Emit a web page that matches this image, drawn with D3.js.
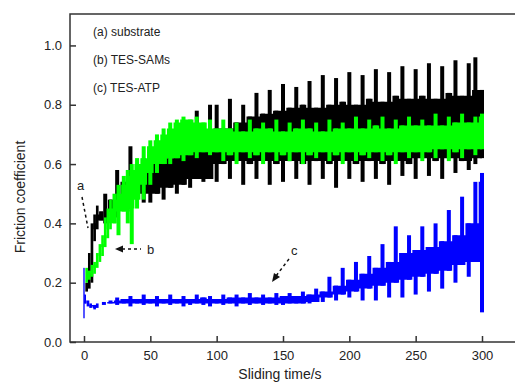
<!DOCTYPE html>
<html>
<head>
<meta charset="utf-8">
<script src="https://cdn.jsdelivr.net/npm/d3@7"></script>
<style>
  body { margin: 0; background: #fff; }
  text { font-family: "Liberation Sans", Arial, sans-serif; fill: #222; }
</style>
</head>
<body>
<svg id="chart" width="515" height="383"></svg>
<script>
// substrate (black): sample time, spike top, spike bottom
const tA  = [2, 4, 6, 8, 10, 13, 16, 20, 25, 30, 35, 40, 45, 50, 55, 60, 65, 70, 75, 80, 85, 90, 95,
  100, 105, 110, 115, 120, 125, 130, 135, 140, 145, 150, 155, 160, 165, 170, 175, 180, 185, 190, 195,
  200, 205, 210, 215, 220, 225, 230, 235, 240, 245, 250, 255, 260, 265, 270, 275, 280, 285, 290, 295, 300];
const hiA = [0.20, 0.30, 0.40, 0.43, 0.46, 0.44, 0.50, 0.48, 0.58, 0.54, 0.66, 0.56, 0.62, 0.62, 0.66, 0.62, 0.68, 0.64, 0.72, 0.66, 0.78, 0.70, 0.80,
  0.80, 0.72, 0.82, 0.74, 0.80, 0.76, 0.84, 0.77, 0.85, 0.78, 0.87, 0.79, 0.86, 0.80, 0.88, 0.79, 0.90, 0.80, 0.89, 0.81,
  0.91, 0.80, 0.90, 0.82, 0.92, 0.81, 0.91, 0.83, 0.93, 0.82, 0.92, 0.83, 0.94, 0.82, 0.93, 0.84, 0.95, 0.83, 0.94, 0.96, 0.85];
const loA = [0.17, 0.18, 0.20, 0.34, 0.38, 0.41, 0.40, 0.44, 0.42, 0.48, 0.45, 0.50, 0.47, 0.47, 0.50, 0.48, 0.52, 0.50, 0.53, 0.52, 0.55, 0.54, 0.55,
  0.54, 0.60, 0.55, 0.61, 0.53, 0.60, 0.55, 0.61, 0.53, 0.60, 0.54, 0.61, 0.55, 0.60, 0.53, 0.61, 0.55, 0.60, 0.52, 0.61,
  0.55, 0.60, 0.54, 0.61, 0.55, 0.60, 0.53, 0.61, 0.56, 0.60, 0.55, 0.62, 0.56, 0.61, 0.55, 0.62, 0.57, 0.61, 0.58, 0.60, 0.62];

// TES-SAMs (green)
const tB  = [2, 4, 6, 8, 10, 12, 14, 16, 18, 20, 23, 26, 30, 33, 36, 40, 45, 50, 55, 60, 65, 70, 75, 80, 85, 90, 95,
  100, 105, 110, 115, 120, 125, 130, 135, 140, 145, 150, 155, 160, 165, 170, 175, 180, 185, 190, 195,
  200, 205, 210, 215, 220, 225, 230, 235, 240, 245, 250, 255, 260, 265, 270, 275, 280, 285, 290, 295, 300];
const hiB = [0.25, 0.24, 0.26, 0.27, 0.30, 0.33, 0.36, 0.42, 0.45, 0.48, 0.50, 0.53, 0.56, 0.58, 0.60, 0.62, 0.66, 0.68, 0.70, 0.72, 0.74, 0.75, 0.76, 0.75, 0.76, 0.74, 0.75,
  0.72, 0.75, 0.72, 0.74, 0.71, 0.75, 0.72, 0.74, 0.72, 0.75, 0.71, 0.74, 0.72, 0.75, 0.72, 0.74, 0.71, 0.75, 0.72, 0.74,
  0.72, 0.76, 0.72, 0.75, 0.73, 0.76, 0.72, 0.75, 0.73, 0.76, 0.73, 0.75, 0.73, 0.77, 0.73, 0.76, 0.74, 0.77, 0.74, 0.76, 0.77];
const loB = [0.20, 0.21, 0.22, 0.23, 0.25, 0.27, 0.29, 0.32, 0.35, 0.38, 0.40, 0.36, 0.44, 0.40, 0.33, 0.45, 0.48, 0.53, 0.57, 0.60, 0.60, 0.62, 0.61, 0.63, 0.62, 0.64, 0.63,
  0.64, 0.61, 0.63, 0.60, 0.64, 0.62, 0.63, 0.60, 0.64, 0.61, 0.63, 0.61, 0.64, 0.60, 0.63, 0.62, 0.64, 0.61, 0.63, 0.60,
  0.64, 0.61, 0.63, 0.62, 0.64, 0.61, 0.63, 0.60, 0.64, 0.62, 0.64, 0.61, 0.64, 0.62, 0.65, 0.61, 0.64, 0.62, 0.65, 0.63, 0.65];

// TES-ATP (blue)
const tC  = [0, 1, 3, 5, 8, 10, 15, 20, 25, 30, 35, 40, 45, 50, 55, 60, 65, 70, 75, 80, 85, 90, 95,
  100, 105, 110, 115, 120, 125, 130, 135, 140, 145, 150, 155, 160, 165, 170, 175, 180, 185, 190, 195,
  200, 205, 210, 215, 220, 225, 230, 235, 240, 245, 250, 255, 260, 265, 270, 275, 280, 285, 290, 295, 300];
const hiC = [0.25, 0.16, 0.14, 0.13, 0.125, 0.13,
  0.135, 0.14, 0.15, 0.145, 0.155, 0.145, 0.16, 0.145, 0.155, 0.145, 0.16, 0.145, 0.155, 0.145, 0.16, 0.15, 0.155,
  0.145, 0.16, 0.15, 0.16, 0.15, 0.165, 0.15, 0.16, 0.15, 0.165, 0.155, 0.165, 0.155, 0.17, 0.16, 0.18, 0.17,
  0.22, 0.19, 0.25, 0.21, 0.27, 0.23, 0.29, 0.25, 0.33, 0.27, 0.39, 0.30, 0.36, 0.31, 0.39, 0.32, 0.40, 0.34, 0.445, 0.36, 0.49, 0.40, 0.54, 0.57];
const loC = [0.08, 0.13, 0.12, 0.115, 0.11, 0.115,
  0.125, 0.13, 0.125, 0.13, 0.12, 0.13, 0.125, 0.13, 0.12, 0.13, 0.125, 0.13, 0.12, 0.125, 0.13, 0.125, 0.12,
  0.13, 0.125, 0.13, 0.12, 0.13, 0.125, 0.13, 0.125, 0.13, 0.125, 0.125, 0.13, 0.13, 0.13, 0.13, 0.135, 0.135,
  0.15, 0.14, 0.16, 0.15, 0.17, 0.14, 0.18, 0.14, 0.19, 0.15, 0.20, 0.15, 0.21, 0.16, 0.22, 0.17, 0.23, 0.18, 0.24, 0.20, 0.26, 0.22, 0.27, 0.10];

const xTicks = [0, 50, 100, 150, 200, 250, 300];
const yTicks = [0.0, 0.2, 0.4, 0.6, 0.8, 1.0];
const legend = ['(a) substrate', '(b) TES-SAMs', '(c) TES-ATP'];

const svg = d3.select('#chart');

const x = d3.scaleLinear().domain([-10.55, 330]).range([70, 521.8]);
const y = d3.scaleLinear().domain([0, 1.106]).range([342, 14]);

function rows(t, hi, lo) {
  return t.map((v, i) => {
    // core of the trace: the range shared with the neighbouring readings
    const j = Math.max(0, i - 1), k = Math.min(t.length - 1, i + 1);
    let top = Math.min(hi[j], hi[i], hi[k]);
    let bot = Math.max(lo[j], lo[i], lo[k]);
    if (top < bot) top = bot = (top + bot) / 2;
    const gap = Math.min(v - t[j] || Infinity, t[k] - v || Infinity);
    return {t: v, hi: hi[i], lo: lo[i], top: top, bot: bot, gap: gap};
  });
}

const core = d3.area()
  .curve(d3.curveStep)
  .x(d => x(d.t))
  .y0(d => y(d.bot))
  .y1(d => y(d.top));

const series = [
  {rows: rows(tC, hiC, loC), color: '#0000ff'},
  {rows: rows(tA, hiA, loA), color: '#000000'},
  {rows: rows(tB, hiB, loB), color: '#00ff00'}
];

const traces = svg.append('g').selectAll('g')
  .data(series)
  .enter().append('g');

traces.append('path')
  .attr('d', d => core(d.rows))
  .attr('fill', d => d.color);

traces.each(function(s) {
  d3.select(this).selectAll('rect')
    .data(s.rows)
    .enter().append('rect')
    .attr('x', d => x(d.t) - Math.min(2, (x(d.t + d.gap) - x(d.t)) / 2))
    .attr('width', d => Math.min(4, x(d.t + d.gap) - x(d.t)))
    .attr('y', d => y(d.hi))
    .attr('height', d => y(d.lo) - y(d.hi))
    .attr('fill', s.color);
});

// frame
svg.append('rect').attr('x', 70).attr('y', 14).attr('width', 452).attr('height', 328)
  .attr('fill', 'none').attr('stroke', '#333').attr('stroke-width', 1.5);

const xAxis = svg.append('g')
  .attr('transform', 'translate(0,342)')
  .call(d3.axisBottom(x).tickValues(xTicks).tickSizeInner(-6).tickSizeOuter(0).tickPadding(9));
const yAxis = svg.append('g')
  .attr('transform', 'translate(70,0)')
  .call(d3.axisLeft(y).tickValues(yTicks).tickFormat(d3.format('.1f')).tickSizeInner(-6).tickSizeOuter(0).tickPadding(8));

[xAxis, yAxis].forEach(g => {
  g.select('.domain').remove();
  g.selectAll('line').attr('stroke', '#333').attr('stroke-width', 1.5);
  g.selectAll('text').style('font-size', '13px').style('font-family', '"Liberation Sans", Arial, sans-serif').attr('fill', '#222');
});

svg.append('text').attr('x', 280).attr('y', 379).attr('text-anchor', 'middle')
  .style('font-size', '14px').text('Sliding time/s');
svg.append('text').attr('transform', 'translate(25,197) rotate(-90)').attr('text-anchor', 'middle')
  .style('font-size', '14px').text('Friction coefficient');

svg.selectAll('.leg').data(legend).enter().append('text')
  .attr('class', 'leg')
  .attr('x', 93).attr('y', (d, i) => 36 + i * 28)
  .style('font-size', '12px').text(d => d);

// annotations
function dashed(p) {
  return svg.append('path').attr('d', p)
    .attr('fill', 'none').attr('stroke', '#111')
    .attr('stroke-width', 1.5).attr('stroke-dasharray', '3,3');
}
svg.append('text').attr('x', 77).attr('y', 190).style('font-size', '13px').text('a');
dashed('M82,197 L88,228');
svg.append('text').attr('x', 147).attr('y', 254).style('font-size', '13px').text('b');
dashed('M122,249 L141,249');
svg.append('path').attr('d', 'M115,249 L123,245.5 L123,252.5 Z').attr('fill', '#111');
svg.append('text').attr('x', 291).attr('y', 255).style('font-size', '13px').text('c');
dashed('M289,259 L276,276');
svg.append('path').attr('d', 'M272,282 L274,273 L280,277 Z').attr('fill', '#111');
</script>
</body>
</html>
